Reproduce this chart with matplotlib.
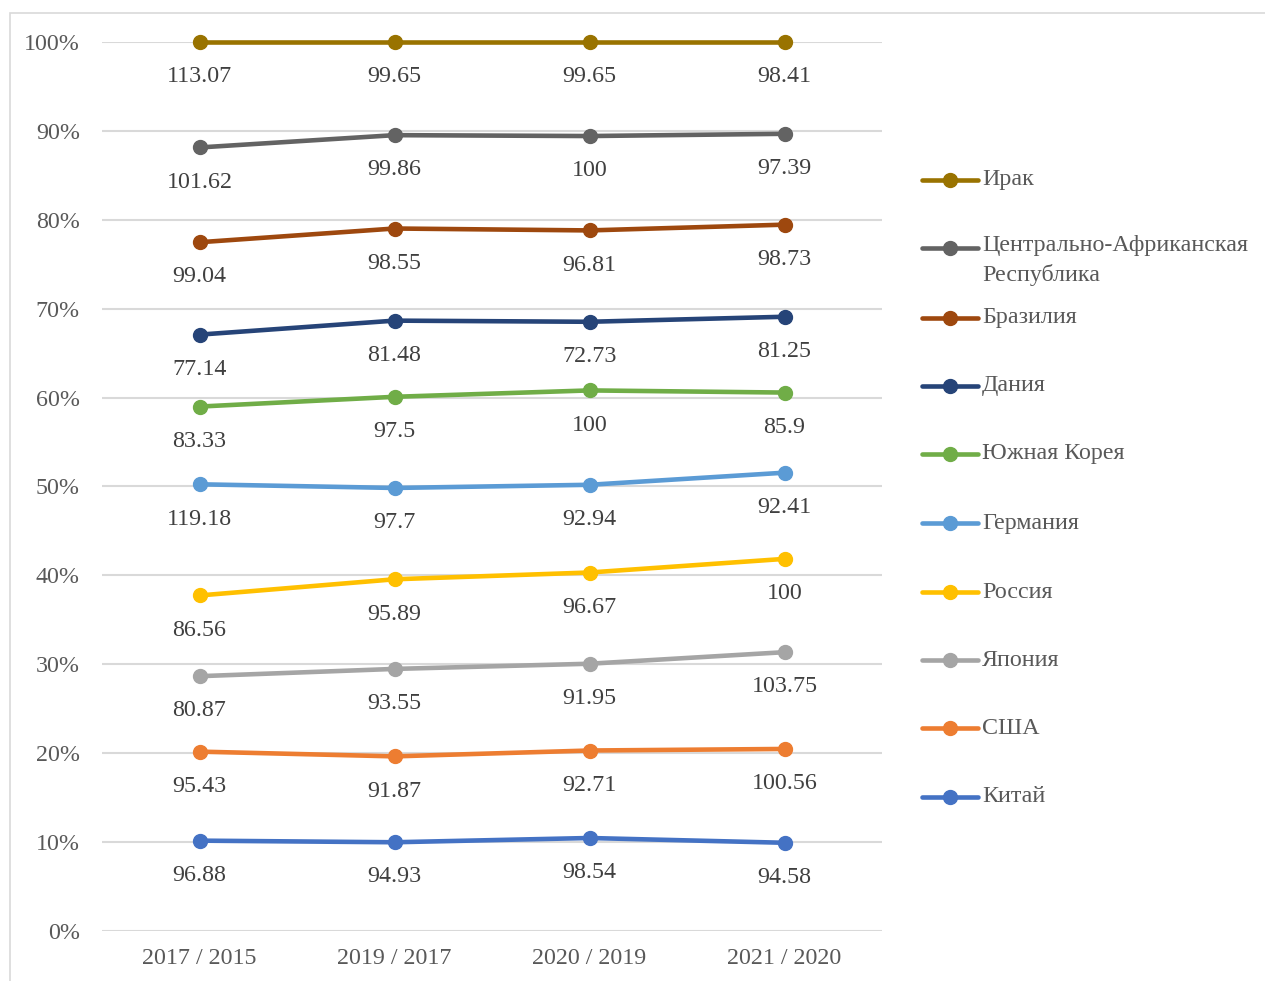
import numpy as np
import matplotlib.pyplot as plt
from matplotlib.lines import Line2D
from matplotlib.patches import Rectangle

plt.rcParams['font.family'] = ['Liberation Serif', 'DejaVu Serif']

# periods on the x axis
periods = ['2017 / 2015', '2019 / 2017', '2020 / 2019', '2021 / 2020']

# series, bottom of the stack first
countries = ['Китай', 'США', 'Япония', 'Россия', 'Германия', 'Южная Корея',
             'Дания', 'Бразилия', 'Центрально-Африканская\nРеспублика', 'Ирак']
china = [96.88, 94.93, 98.54, 94.58]
usa = [95.43, 91.87, 92.71, 100.56]
japan = [80.87, 93.55, 91.95, 103.75]
russia = [86.56, 95.89, 96.67, 100]
germany = [119.18, 97.7, 92.94, 92.41]
korea = [83.33, 97.5, 100, 85.9]
denmark = [77.14, 81.48, 72.73, 81.25]
brazil = [99.04, 98.55, 96.81, 98.73]
car = [101.62, 99.86, 100, 97.39]
iraq = [113.07, 99.65, 99.65, 98.41]
series = [china, usa, japan, russia, germany, korea, denmark, brazil, car, iraq]

colors = ['#4472C4', '#ED7D31', '#A5A5A5', '#FFC000', '#5B9BD5', '#70AD47',
          '#264478', '#9E480E', '#636363', '#997300']

vals = np.array(series, dtype=float)
stacked = vals.cumsum(axis=0) / vals.sum(axis=0)   # 100% stacked lines

FS = 17.3

fig = plt.figure(figsize=(12.65, 9.81), dpi=100)
# chart area border (only left/top visible in the reference)
fig.patches.append(Rectangle((10 / 1265, -0.05), 1.2, (981 - 13) / 981 + 0.05,
                             transform=fig.transFigure, fill=False,
                             edgecolor='#D9D9D9', linewidth=1.2))

ax = fig.add_axes([102 / 1265, 1 - 931 / 981, 780 / 1265, 889 / 981])
x = np.arange(len(periods))

for i in range(len(series)):
    ax.plot(x, stacked[i], color=colors[i], lw=3.3, marker='o', ms=10,
            solid_capstyle='round', zorder=3, clip_on=False)
    for xi, yi, v in zip(x, stacked[i], series[i]):
        ax.annotate(f'{v:g}', (xi, yi), xytext=(0, -25), textcoords='offset points',
                    ha='center', va='center', fontsize=FS, color='#404040')

ax.set_xlim(-0.5, len(periods) - 0.5)
ax.set_ylim(0, 1)
ticks = np.arange(0, 1.01, 0.1)
ax.set_yticks(ticks)
ax.set_yticklabels([f'{int(round(t * 100))}%' for t in ticks])
ax.set_xticks(x)
ax.set_xticklabels(periods)
ax.tick_params(axis='both', length=0, labelsize=FS, labelcolor='#595959')
ax.tick_params(axis='y', pad=16)
ax.tick_params(axis='x', pad=12)
ax.grid(axis='y', color='#D9D9D9', lw=1.5, zorder=0)
for s in ax.spines.values():
    s.set_visible(False)

# legend drawn by hand, top entry first
leg_y = [180, 248, 318, 386, 454, 523, 592, 660, 728, 797]
for j, i in enumerate(range(len(series) - 1, -1, -1)):
    yf = 1 - leg_y[j] / 981
    fig.add_artist(Line2D([922 / 1265, 978 / 1265], [yf, yf], color=colors[i], lw=3.3,
                          transform=fig.transFigure, solid_capstyle='round'))
    fig.add_artist(Line2D([950 / 1265], [yf], color=colors[i], marker='o', ms=10,
                          transform=fig.transFigure))
    if '\n' in countries[i]:
        fig.text(982 / 1265, yf + 13 / 981, countries[i], fontsize=FS, color='#595959',
                 va='top', linespacing=1.45)
    else:
        fig.text(982 / 1265, yf, countries[i], fontsize=FS, color='#595959', va='center')

fig.savefig('out.png', dpi=100)
